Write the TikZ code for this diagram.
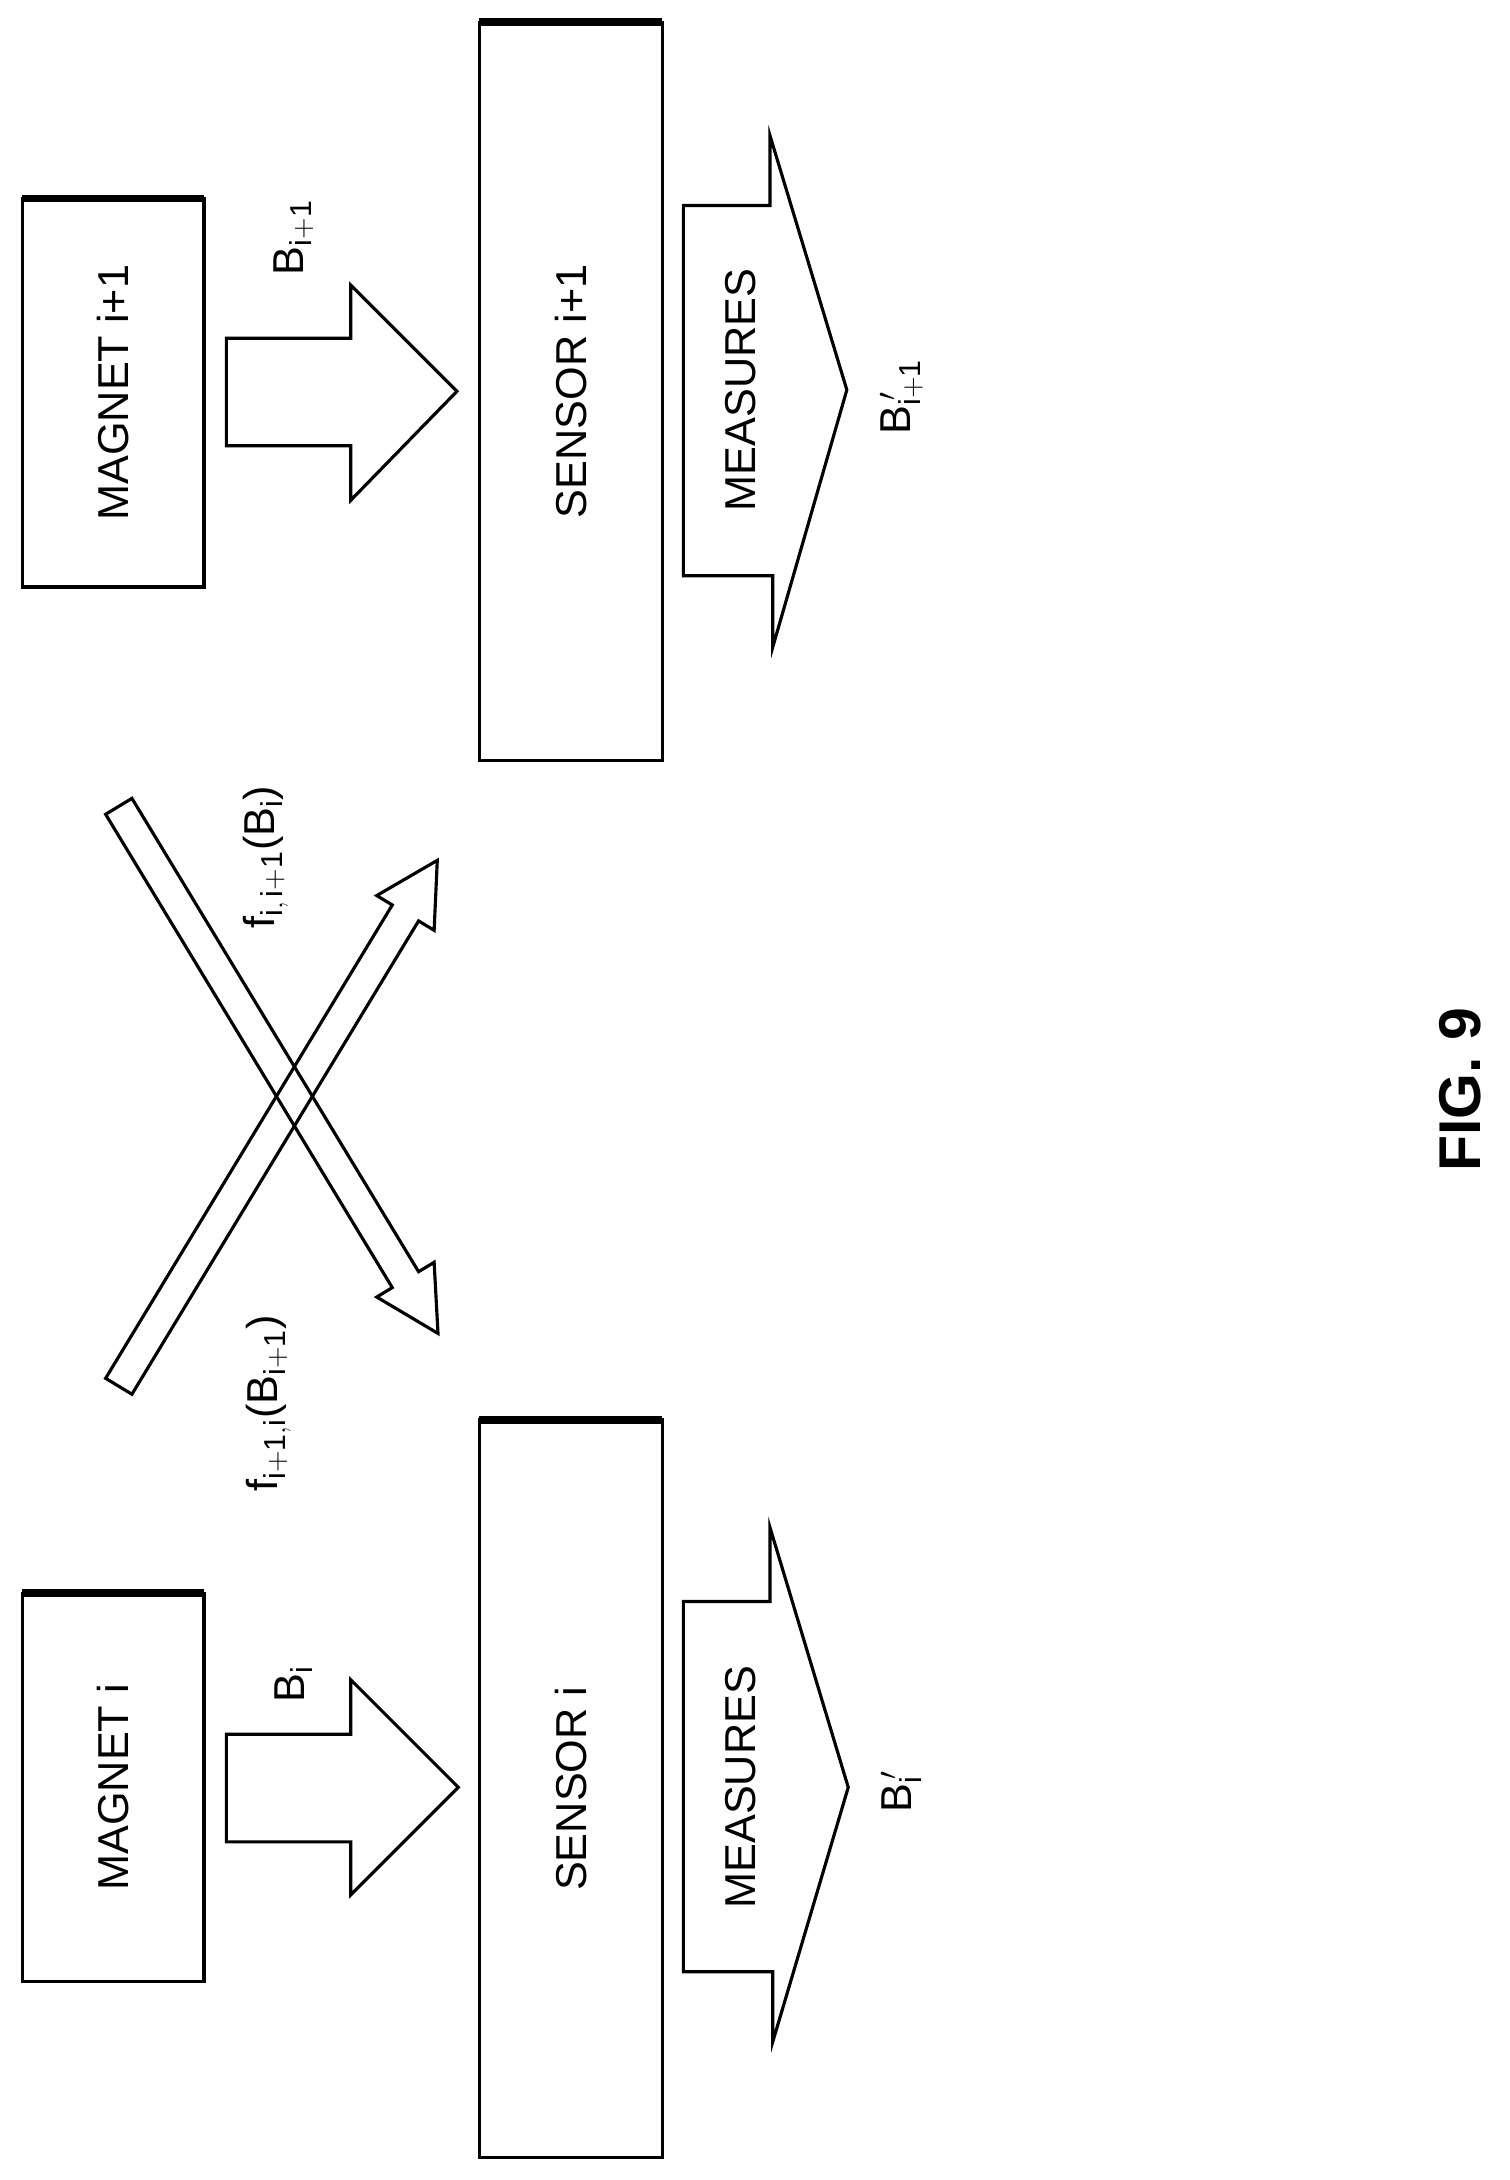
\documentclass[tikz,border=0pt]{standalone}
\usepackage{fontspec}
\setmainfont{Liberation Sans}
\begin{document}
\begin{tikzpicture}[x=0.025cm,y=-0.025cm,line width=1.6pt,
  lbl/.style={rotate=90,font=\fontsize{22}{26}\selectfont},
  thick top/.style={line width=4pt}]
\useasboundingbox (0,0) rectangle (1080,1560);
% magnets and sensors
\draw (16,1140) rectangle (146,1418) node[midway,lbl] (mi) {MAGNET i};
\draw (343,1016) rectangle (474,1544) node[midway,lbl] (si) {SENSOR i};
\draw (16,142) rectangle (146,420) node[midway,lbl] (mj) {MAGNET i+1};
\draw (343,16) rectangle (474,544) node[midway,lbl] (sj) {SENSOR i+1};
\draw[thick top] (16,1140) -- (146,1140) (343,1016) -- (474,1016)
  (16,142) -- (146,142) (343,16) -- (474,16);
% field arrows
\draw (162,1241) -- (251,1241) -- (251,1202) -- (328,1279) -- (251,1356) -- (251,1318) -- (162,1318) -- cycle;
\draw (162,242) -- (251,242) -- (251,204) -- (327,280) -- (251,358) -- (251,319) -- (162,319) -- cycle;
\node[lbl] (bi) at (210,1205) {B$_{\mathrm{i}}$};
\node[lbl] (bj) at (210,170) {B$_{\mathrm{i+1}}$};
% measures arrows
\draw (489,1146) -- (551,1146) -- (551,1093) -- (607,1279) -- (553,1461) -- (553,1411) -- (489,1411) -- cycle;
\draw (489,147) -- (551,147) -- (551,97) -- (606,279) -- (553,463) -- (553,412) -- (489,412) -- cycle;
\node[lbl] (mei) at (530,1279) {MEASURES};
\node[lbl] (mej) at (530,279) {MEASURES};
\node[lbl] (bpi) at (645,1282) {B$_{\mathrm{i}}^{\,\prime}$};
\node[lbl] (bpj) at (645,284) {B$_{\mathrm{i+1}}^{\,\prime}$};
% crossing arrows
\begin{scope}[shift={(85,577)},rotate=-58.8]
\draw (0,-11) -- (396,-11) -- (396,-24) -- (441,0) -- (396,24) -- (396,11) -- (0,11) -- cycle;
\end{scope}
\begin{scope}[shift={(85,992)},rotate=58.8]
\draw (0,-11) -- (396,-11) -- (396,-24) -- (440,0) -- (396,24) -- (396,11) -- (0,11) -- cycle;
\end{scope}
\node[lbl,anchor=west] (fij) at (190,670) {f$_{\mathrm{i,\,i+1}}$(B$_{\mathrm{i}}$)};
\node[lbl,anchor=west] (fji) at (192,1073) {f$_{\mathrm{i+1,i}}$(B$_{\mathrm{i+1}}$)};
% figure label
\node[rotate=90,font=\fontsize{30}{34}\selectfont\bfseries] (fig) at (1045,780) {FIG. 9};
\end{tikzpicture}
\end{document}
